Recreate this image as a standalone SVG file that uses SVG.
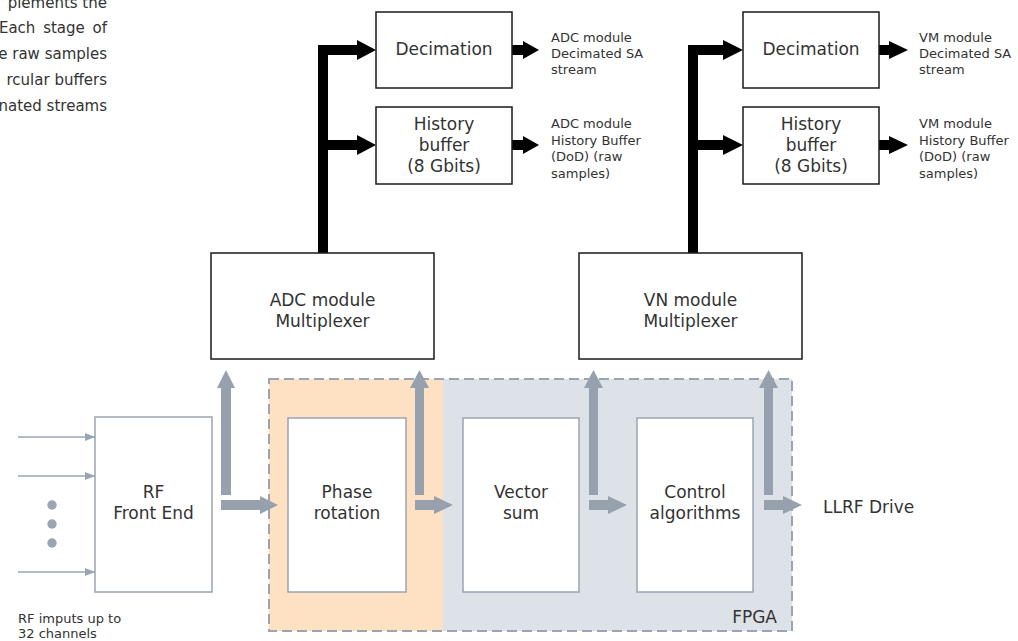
<svg xmlns="http://www.w3.org/2000/svg" width="1018" height="641" viewBox="0 0 1018 641">
<style>
text{font-family:"DejaVu Sans","Liberation Sans",sans-serif;fill:#333;}
.lg{font-size:17px;text-anchor:middle;}
.sm{font-size:13px;}
.intro{font-size:15px;text-anchor:end;}
.blk{fill:#fff;stroke:#1a1a1a;stroke-width:1.5;}
.gbx{fill:#fff;stroke:#9aa4b2;stroke-width:1.5;}
.bk{fill:#000;}
.ga{fill:#97a1ae;}
.thin{stroke:#9aa4b2;stroke-width:1.5;fill:none;}
</style>
<defs>
<marker id="ah" markerWidth="10" markerHeight="8" refX="10" refY="4" orient="auto" markerUnits="userSpaceOnUse">
<path d="M0,0 L10,4 L0,8 Z" fill="#9aa4b2"/>
</marker>
</defs>

<g id="intro-text">
<text class="intro" x="107" y="8">plements the</text>
<text class="intro" x="107" y="33" word-spacing="3">Each stage of</text>
<text class="intro" x="107" y="59">e raw samples</text>
<text class="intro" x="107" y="85">rcular buffers</text>
<text class="intro" x="107" y="111">nated streams</text>
</g>

<g id="fpga">
<rect x="269" y="379" width="174" height="252" fill="#fde1c2"/>
<rect x="443" y="379" width="349" height="252" fill="#dde1e8"/>
<rect x="269" y="379" width="523" height="252" fill="none" stroke="#9aa4b2" stroke-width="2" stroke-dasharray="10 5"/>
<text x="777" y="623" style="font-size:17px;text-anchor:end">FPGA</text>
</g>

<g id="connectors">
<!-- ADC bus -->
<rect class="bk" x="318" y="45" width="10" height="208"/>
<rect class="bk" x="318" y="45" width="40" height="10"/>
<polygon class="bk" points="357,40 376,50 357,60"/>
<rect class="bk" x="318" y="140" width="40" height="10"/>
<polygon class="bk" points="357,135 376,145 357,155"/>
<rect class="bk" x="512" y="45" width="12" height="10"/>
<polygon class="bk" points="523,41 539,50 523,59"/>
<rect class="bk" x="512" y="140" width="12" height="10"/>
<polygon class="bk" points="523,136 539,145 523,154"/>
<!-- VM bus -->
<rect class="bk" x="688" y="45" width="10" height="208"/>
<rect class="bk" x="688" y="45" width="36" height="10"/>
<polygon class="bk" points="723,40 743,50 723,60"/>
<rect class="bk" x="688" y="140" width="36" height="10"/>
<polygon class="bk" points="723,135 743,145 723,155"/>
<rect class="bk" x="879" y="45" width="11" height="10"/>
<polygon class="bk" points="889,41 908,50 889,59"/>
<rect class="bk" x="879" y="140" width="11" height="10"/>
<polygon class="bk" points="889,136 908,145 889,154"/>

<!-- RF inputs -->
<line class="thin" x1="18" y1="437" x2="95" y2="437" marker-end="url(#ah)"/>
<line class="thin" x1="18" y1="476" x2="95" y2="476" marker-end="url(#ah)"/>
<line class="thin" x1="18" y1="572" x2="95" y2="572" marker-end="url(#ah)"/>
<circle cx="52" cy="505" r="4.7" fill="#9aa4b2"/>
<circle cx="52" cy="524" r="4.7" fill="#9aa4b2"/>
<circle cx="52" cy="543" r="4.7" fill="#9aa4b2"/>

<!-- grey arrows: RF front end -->
<rect class="ga" x="221" y="388" width="10" height="107"/>
<polygon class="ga" points="217,388 226,370 235,388"/>
<rect class="ga" x="221" y="500" width="40" height="10"/>
<polygon class="ga" points="260,496 278,505 260,514"/>
<!-- phase rotation -->
<rect class="ga" x="415" y="388" width="9" height="107"/>
<polygon class="ga" points="410,388 419.5,370 429,388"/>
<rect class="ga" x="415" y="500" width="20" height="10"/>
<polygon class="ga" points="434,496 453,505 434,514"/>
<!-- vector sum -->
<rect class="ga" x="589" y="388" width="9" height="107"/>
<polygon class="ga" points="584,388 593.5,370 603,388"/>
<rect class="ga" x="589" y="500" width="20" height="10"/>
<polygon class="ga" points="608,496 627,505 608,514"/>
<!-- control -->
<rect class="ga" x="764" y="388" width="9" height="107"/>
<polygon class="ga" points="759,388 768.5,370 778,388"/>
<rect class="ga" x="764" y="500" width="20" height="10"/>
<polygon class="ga" points="783,496 802,505 783,514"/>
</g>

<g id="adc-decimation">
<rect class="blk" x="376" y="12" width="136" height="76"/>
<text class="lg" x="444" y="55">Decimation</text>
</g>
<g id="adc-history">
<rect class="blk" x="376" y="107" width="136" height="77"/>
<text class="lg" x="444" y="130">History</text>
<text class="lg" x="444" y="151">buffer</text>
<text class="lg" x="444" y="172">(8 Gbits)</text>
</g>
<g id="adc-dec-out" class="sm">
<text x="551" y="42">ADC module</text>
<text x="551" y="58">Decimated SA</text>
<text x="551" y="74">stream</text>
</g>
<g id="adc-hist-out" class="sm">
<text x="551" y="128">ADC module</text>
<text x="551" y="145">History Buffer</text>
<text x="551" y="161">(DoD) (raw</text>
<text x="551" y="178">samples)</text>
</g>

<g id="vm-decimation">
<rect class="blk" x="743" y="12" width="136" height="76"/>
<text class="lg" x="811" y="55">Decimation</text>
</g>
<g id="vm-history">
<rect class="blk" x="743" y="107" width="136" height="77"/>
<text class="lg" x="811" y="130">History</text>
<text class="lg" x="811" y="151">buffer</text>
<text class="lg" x="811" y="172">(8 Gbits)</text>
</g>
<g id="vm-dec-out" class="sm">
<text x="919" y="42">VM module</text>
<text x="919" y="58">Decimated SA</text>
<text x="919" y="74">stream</text>
</g>
<g id="vm-hist-out" class="sm">
<text x="919" y="128">VM module</text>
<text x="919" y="145">History Buffer</text>
<text x="919" y="161">(DoD) (raw</text>
<text x="919" y="178">samples)</text>
</g>

<g id="adc-mux">
<rect class="blk" x="211" y="253" width="223" height="106"/>
<text class="lg" x="322.5" y="306">ADC module</text>
<text class="lg" x="322.5" y="327">Multiplexer</text>
</g>
<g id="vn-mux">
<rect class="blk" x="579" y="253" width="223" height="106"/>
<text class="lg" x="690.5" y="306">VN module</text>
<text class="lg" x="690.5" y="327">Multiplexer</text>
</g>

<g id="rf-front-end">
<rect class="gbx" x="95" y="417" width="117" height="175"/>
<text class="lg" x="153.5" y="498">RF</text>
<text class="lg" x="153.5" y="519">Front End</text>
</g>
<g id="phase-rotation">
<rect class="gbx" x="288" y="418" width="118" height="174"/>
<text class="lg" x="347" y="498">Phase</text>
<text class="lg" x="347" y="519">rotation</text>
</g>
<g id="vector-sum">
<rect class="gbx" x="463" y="418" width="116" height="174"/>
<text class="lg" x="521" y="498">Vector</text>
<text class="lg" x="521" y="519">sum</text>
</g>
<g id="control-algorithms">
<rect class="gbx" x="637" y="418" width="116" height="174"/>
<text class="lg" x="695" y="498">Control</text>
<text class="lg" x="695" y="519">algorithms</text>
</g>

<g id="labels">
<text x="823" y="513" style="font-size:17px">LLRF Drive</text>
<text class="sm" x="18" y="623">RF imputs up to</text>
<text class="sm" x="18" y="638">32 channels</text>
</g>
</svg>
